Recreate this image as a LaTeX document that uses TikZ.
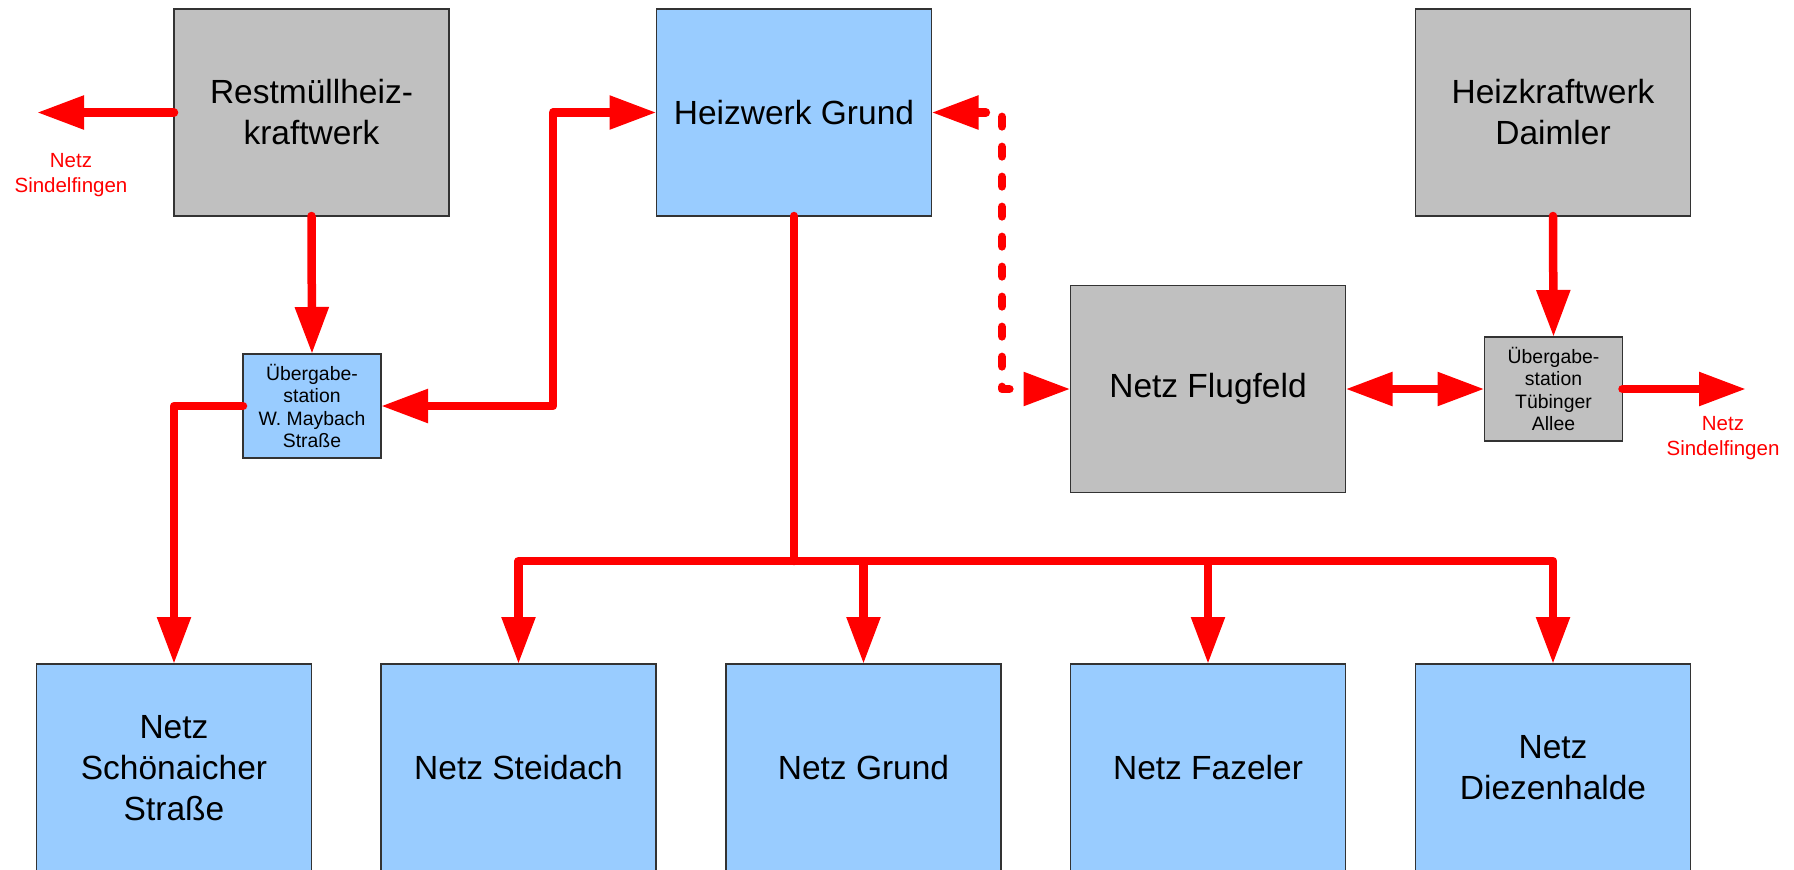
\documentclass[tikz,border=0pt]{standalone}
\usepackage{fontspec}
\setmainfont{Liberation Sans}
\usetikzlibrary{arrows.meta}
\definecolor{netzblau}{HTML}{99CCFF}
\definecolor{anlagegrau}{HTML}{C0C0C0}
\definecolor{leitrot}{HTML}{FF0000}
\definecolor{rahmen}{HTML}{333333}
\tikzset{
  box/.style={draw=rahmen, line width=0.75pt, inner sep=0pt, outer sep=0pt,
    minimum width=137.5pt, minimum height=103.5pt, align=center,
    font=\fontsize{16.75pt}{20.5pt}\selectfont},
  bluebox/.style={box, fill=netzblau},
  graybox/.style={box, fill=anlagegrau},
  smallbox/.style={minimum width=69pt, minimum height=52pt,
    font=\fontsize{9.7pt}{11.3pt}\selectfont},
  pipe/.style={draw=leitrot, line width=4.25pt, line cap=round, line join=round},
  dashedpipe/.style={pipe, dash pattern=on 4.75pt off 10.25pt},
  outlabel/.style={text=leitrot, align=center, inner sep=0pt,
    font=\fontsize{10.25pt}{12.5pt}\selectfont},
  >={Triangle[length=23.5pt,width=16pt]}
}
\begin{document}
\begin{tikzpicture}[x=0.5pt,y=-0.5pt]
\useasboundingbox (0,0) rectangle (1794,869);

% plants and stations, top row
\node[graybox]  (rmhkw) at (311.5,112.5) {Restmüllheiz-\\kraftwerk};
\node[bluebox]  (hwg)   at (794,112.5)   {Heizwerk Grund};
\node[graybox]  (daim)  at (1553,112.5)  {Heizkraftwerk\\Daimler};
\node[graybox]  (flug)  at (1208,389)    {Netz Flugfeld};

% transfer stations
\node[bluebox,smallbox] (uebW) at (312,406)    {Übergabe-\\station\\W. Maybach\\Straße};
\node[graybox,smallbox] (uebT) at (1553.5,389) {Übergabe-\\station\\Tübinger\\Allee};

% district networks, bottom row
\node[bluebox, minimum height=104pt] (schoen) at (174,768)    {Netz\\Schönaicher\\Straße};
\node[bluebox, minimum height=104pt] (steid)  at (518.5,768)  {Netz Steidach};
\node[bluebox, minimum height=104pt] (ngrund) at (863.5,768)  {Netz Grund};
\node[bluebox, minimum height=104pt] (faz)    at (1208,768)   {Netz Fazeler};
\node[bluebox, minimum height=104pt] (diez)   at (1553,768)   {Netz\\Diezenhalde};

% outgoing supply labels
\node[outlabel] (sindL) at (71,175.5)  {Netz\\Sindelfingen};
\node[outlabel] (sindR) at (1723,438.5) {Netz\\Sindelfingen};

% routing points
\coordinate (outL) at (37,112.5);
\coordinate (outR) at (1746,389);
\coordinate (knW)  at (553,260);
\coordinate (knD)  at (1002,250);
\coordinate (bus)  at (794,561);

% pipelines
\draw[pipe,->] (rmhkw.west) -- (outL);
\draw[pipe,->] (rmhkw.south) -- (uebW.north);
\draw[pipe,->] (uebW.west) -| (schoen.north);
\draw[pipe,<->] (uebW.east) -| (knW) |- (hwg.west);
\draw[dashedpipe,<->] (hwg.east) -| (knD) |- (flug.west);
\draw[pipe] (hwg.south) -- (bus);
\draw[pipe,->] (bus) -| (steid.north);
\draw[pipe,->] (bus) -| (ngrund.north);
\draw[pipe,->] (bus) -| (faz.north);
\draw[pipe,->] (bus) -| (diez.north);
\draw[pipe,->] (daim.south) -- (uebT.north);
\draw[pipe,<->] (flug.east) -- (uebT.west);
\draw[pipe,->] (uebT.east) -- (outR);
\end{tikzpicture}
\end{document}
